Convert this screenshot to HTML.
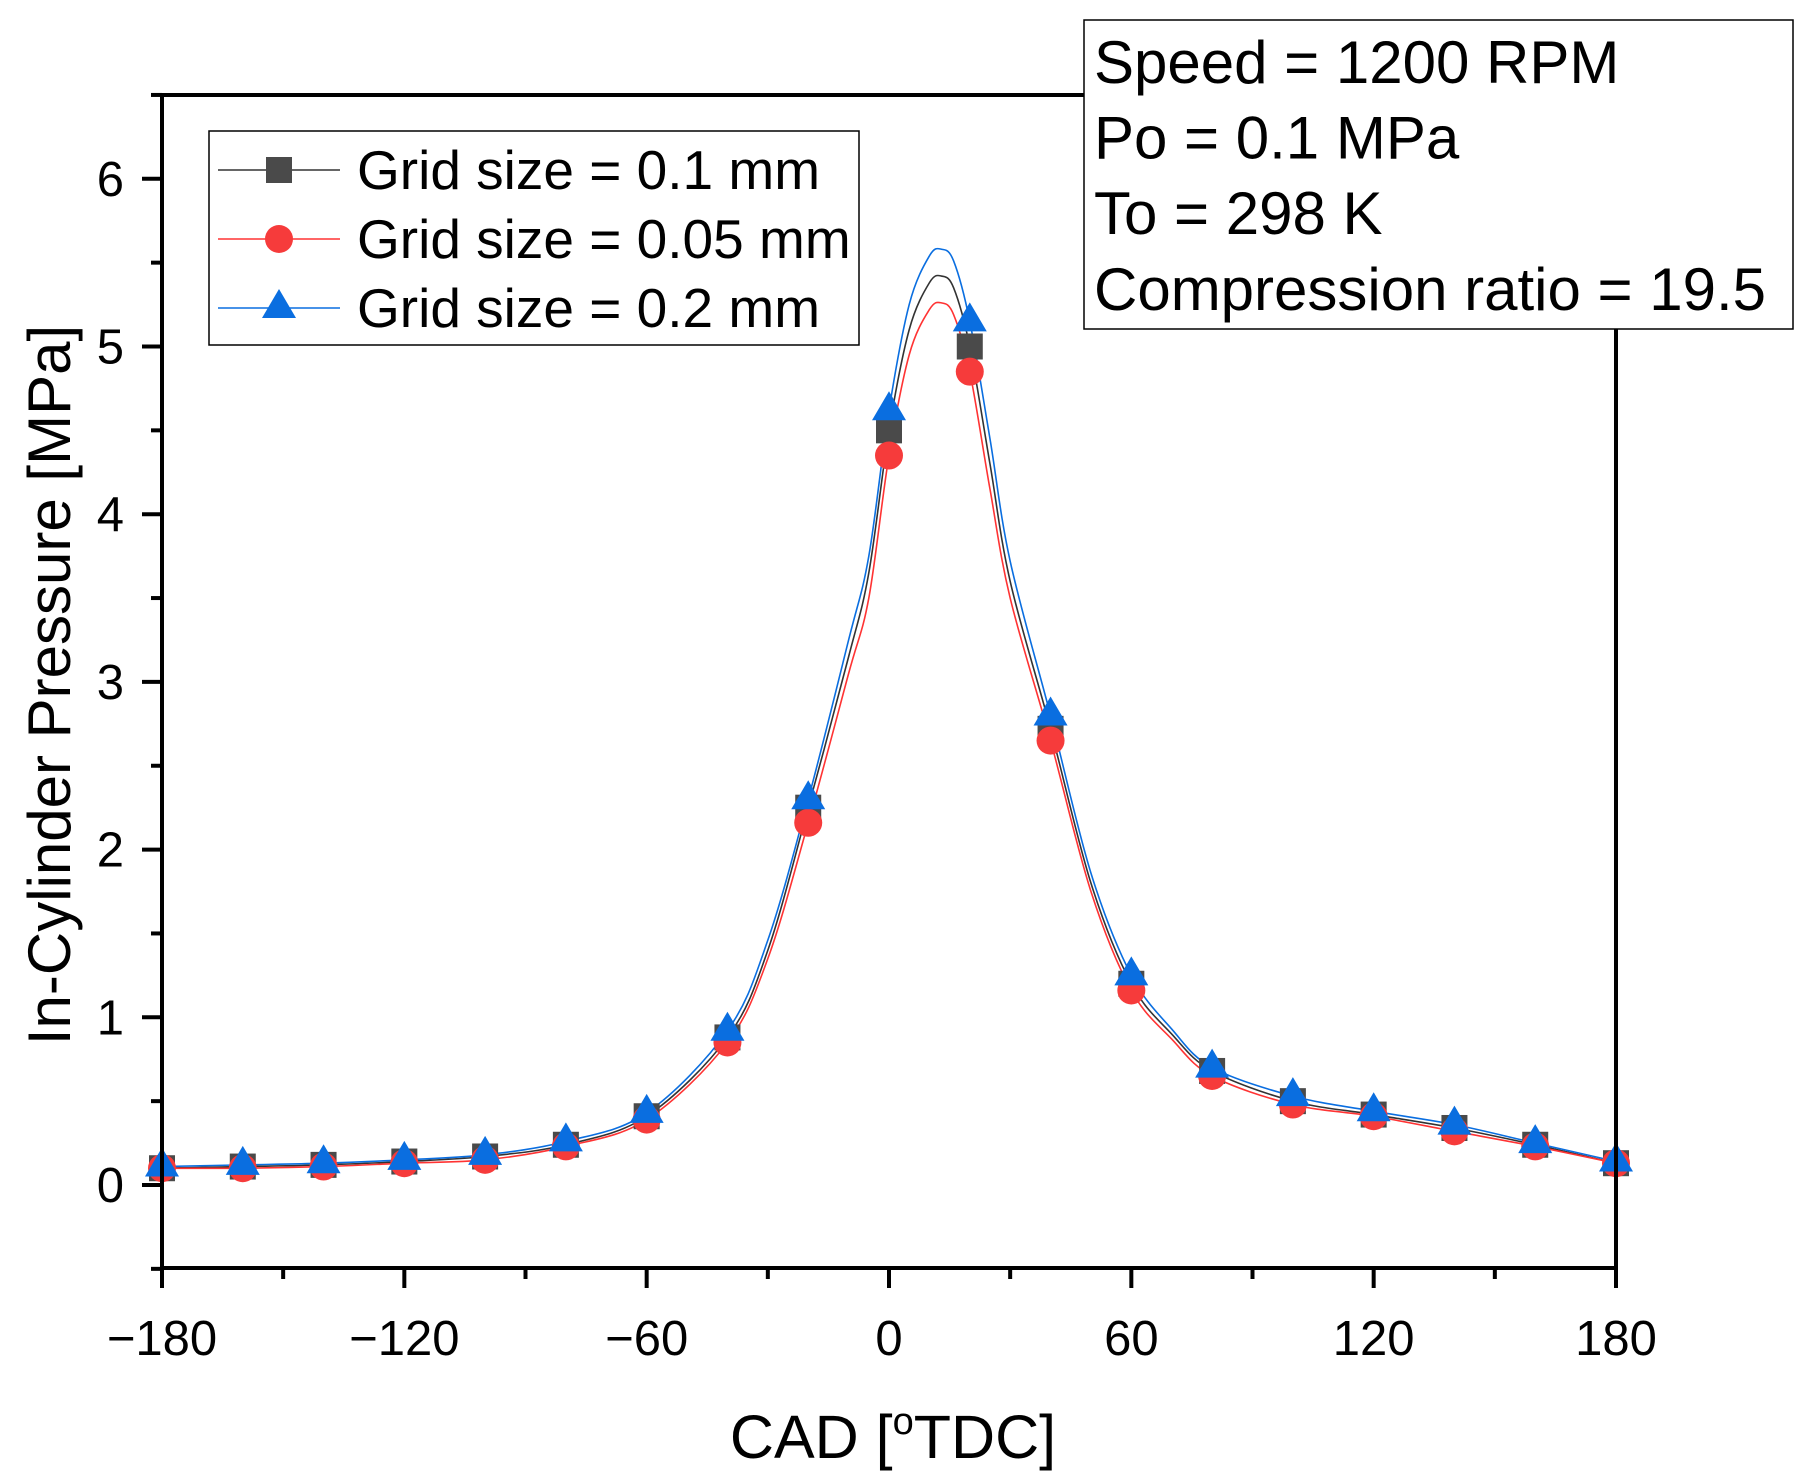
<!DOCTYPE html>
<html><head><meta charset="utf-8"><style>
html,body{margin:0;padding:0;background:#fff;}
svg{display:block;font-family:"Liberation Sans",Arial,sans-serif;}
</style></head><body>
<svg id="chart" width="1814" height="1484" viewBox="0 0 1814 1484">
<g id="plot"></g>
</svg>
<script>
const markerAngles=[-180,-160,-140,-120,-100,-80,-60,-40,-20,0,20,40,60,80,100,120,140,160,180];
const markBlack=[0.10,0.11,0.12,0.14,0.17,0.24,0.41,0.88,2.25,4.50,5.00,2.72,1.20,0.68,0.50,0.42,0.34,0.24,0.13];
const markRed=[0.10,0.10,0.11,0.13,0.15,0.23,0.39,0.85,2.16,4.35,4.85,2.65,1.16,0.65,0.48,0.41,0.32,0.23,0.13];
const markBlue=[0.11,0.12,0.13,0.15,0.18,0.26,0.43,0.92,2.30,4.62,5.15,2.80,1.25,0.70,0.53,0.44,0.36,0.25,0.14];
const lineAngles=[-180,-160,-140,-120,-100,-80,-60,-40,-30,-20,-10,-5,0,5,10,13,16,20,25,30,40,50,60,70,80,100,120,140,160,180];
const lineBlack=[0.10,0.11,0.12,0.14,0.17,0.24,0.41,0.88,1.40,2.25,3.15,3.65,4.50,5.10,5.38,5.42,5.35,5.00,4.30,3.60,2.72,1.80,1.20,0.90,0.68,0.50,0.42,0.34,0.24,0.13];
const lineRed=[0.10,0.10,0.11,0.13,0.15,0.23,0.39,0.85,1.35,2.16,3.05,3.50,4.35,4.95,5.22,5.26,5.19,4.85,4.15,3.50,2.65,1.75,1.16,0.87,0.65,0.48,0.41,0.32,0.23,0.13];
const lineBlue=[0.11,0.12,0.13,0.15,0.18,0.26,0.43,0.92,1.46,2.30,3.25,3.75,4.62,5.25,5.54,5.58,5.51,5.15,4.45,3.72,2.80,1.86,1.25,0.93,0.70,0.53,0.44,0.36,0.25,0.14];
const xTicks=[-180,-120,-60,0,60,120,180];
const yTicks=[0,1,2,3,4,5,6];

const NS="http://www.w3.org/2000/svg";
const svg=document.getElementById('chart');
const X0=162,X1=1616,Y0=1185,PY=167.7;
function sx(a){return X0+(a+180)/360*(X1-X0);}
function sy(v){return Y0-v*PY;}
function mk(tag,attrs,parent){const e=document.createElementNS(NS,tag);for(const k in attrs)e.setAttribute(k,attrs[k]);(parent||svg).appendChild(e);return e;}

function smooth(xs,ys){
  const p=xs.map((a,i)=>[sx(a),sy(ys[i])]);
  let d=`M${p[0][0]},${p[0][1]}`;
  for(let i=0;i<p.length-1;i++){
    const p0=p[Math.max(0,i-1)],p1=p[i],p2=p[i+1],p3=p[Math.min(p.length-1,i+2)];
    const c1=[p1[0]+(p2[0]-p0[0])/6,p1[1]+(p2[1]-p0[1])/6];
    const c2=[p2[0]-(p3[0]-p1[0])/6,p2[1]-(p3[1]-p1[1])/6];
    d+=` C${c1[0]},${c1[1]} ${c2[0]},${c2[1]} ${p2[0]},${p2[1]}`;
  }
  return d;
}
const lines=[[lineBlack,'#333','line-grid-0-1'],[lineRed,'#f33','line-grid-0-05'],[lineBlue,'#0a6ee0','line-grid-0-2']];
lines.forEach(([vals,c,n])=>{
  const e=mk('path',{d:smooth(lineAngles,vals),fill:'none',stroke:c,'stroke-width':1.6});
  
  
});
function square(x,y,g){return mk('rect',{x:x-13,y:y-13,width:26,height:26,fill:'#4a4a4a'},g);}
function circle(x,y,g){return mk('circle',{cx:x,cy:y,r:14,fill:'#f63b3b'},g);}
function tri(x,y,g){return mk('polygon',{points:`${x},${y-19} ${x-17},${y+10} ${x+17},${y+10}`,fill:'#0a6ee0'},g);}
const clipG=mk('g',{});
markerAngles.forEach((a,i)=>{
  const s=square(sx(a),sy(markBlack[i]),clipG);
  
  
});
markerAngles.forEach((a,i)=>{
  const c=circle(sx(a),sy(markRed[i]),clipG);
  
  
});
markerAngles.forEach((a,i)=>{
  const t=tri(sx(a),sy(markBlue[i]),clipG);
  
  
});
// axes
const ax=mk('g',{stroke:'#000','stroke-width':4,fill:'none'});


mk('rect',{x:X0,y:95,width:X1-X0,height:1268-95},ax);
for(let a=-180;a<=180;a+=30){
  const big=a%60===0;
  mk('line',{x1:sx(a),x2:sx(a),y1:1268,y2:1268+(big?20:11)},ax);
}
for(let v=-0.5;v<=6.5;v+=0.5){
  const big=Math.abs(v-Math.round(v))<1e-6;
  mk('line',{x1:X0,x2:X0-(big?20:11),y1:sy(v),y2:sy(v)},ax);
}
xTicks.forEach(a=>{
  const t=mk('text',{x:sx(a),y:1355,'font-size':49,'text-anchor':'middle',fill:'#000'});
  t.textContent=(a<0?'\u2212'+(-a):String(a));
  
  
});
yTicks.forEach(v=>{
  const t=mk('text',{x:124,y:sy(v)+17,'font-size':49,'text-anchor':'end',fill:'#000'});
  t.textContent=String(v);
  
  
});
const xt=mk('text',{x:893,y:1458,'font-size':61,'text-anchor':'middle',fill:'#000'});
xt.innerHTML='CAD [<tspan dy="-24" font-size="38">o</tspan><tspan dy="24">TDC]</tspan>';


const yt=mk('text',{x:0,y:0,'font-size':60,'text-anchor':'middle',fill:'#000',transform:'translate(70,685) rotate(-90)'});
yt.textContent='In-Cylinder Pressure [MPa]';


// legend
const lg=mk('g',{});


mk('rect',{x:209,y:131,width:650,height:214,fill:'#fff',stroke:'#000','stroke-width':1.5},lg);
const legItems=[['Grid size = 0.1 mm','#333',square,170],['Grid size = 0.05 mm','#f33',circle,239],['Grid size = 0.2 mm','#0a6ee0',tri,308]];
legItems.forEach(([txt,c,fn,y])=>{
  const g=mk('g',{},lg);
  
  
  mk('line',{x1:218,x2:340,y1:y,y2:y,stroke:c,'stroke-width':1.6},g);
  fn(279,y,g);
  const t=mk('text',{x:357,y:y+19,'font-size':55,fill:'#000'},g);
  t.textContent=txt;
});
// info box
const ib=mk('g',{});


mk('rect',{x:1084,y:20,width:709,height:309,fill:'#fff',stroke:'#000','stroke-width':1.5},ib);
['Speed = 1200 RPM','Po = 0.1 MPa','To = 298 K','Compression ratio = 19.5'].forEach((s,i)=>{
  const t=mk('text',{x:1094,y:83+i*75.6,'font-size':60,fill:'#000'},ib);
  t.textContent=s;
  
  
});
</script>
</body></html>
